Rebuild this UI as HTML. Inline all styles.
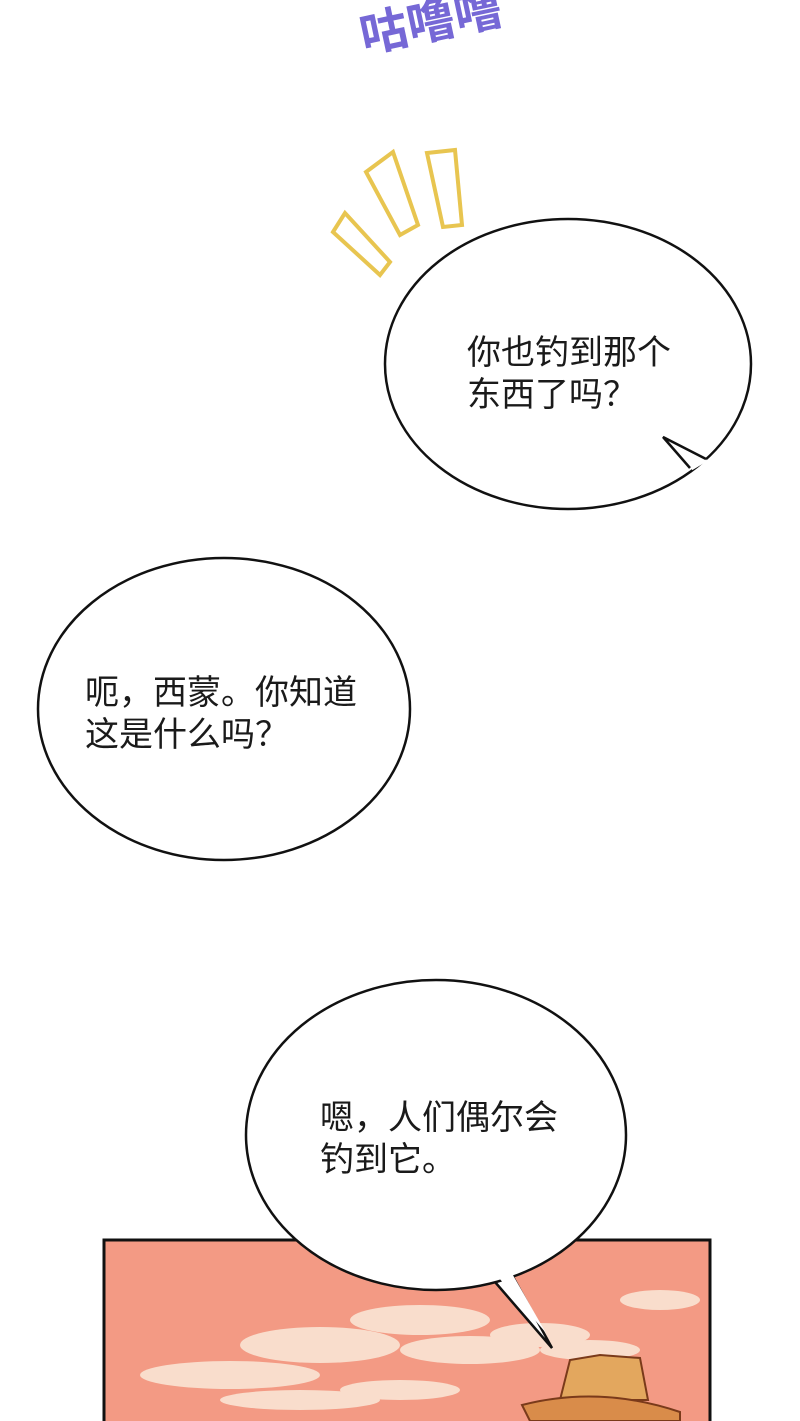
<!DOCTYPE html><html><head><meta charset="utf-8"><style>
body{margin:0;width:800px;height:1421px;background:#fff;overflow:hidden;position:relative;font-family:"Liberation Sans","Noto Sans CJK SC",sans-serif}
.t{position:absolute;font-size:34px;line-height:42px;color:#1a1a1a;white-space:nowrap}
</style></head><body>
<svg width="800" height="1421" style="position:absolute;left:0;top:0">
<text x="360" y="45" font-size="48" font-weight="bold" fill="#7668d6" transform="rotate(-12 400 30)" font-family="Noto Sans CJK SC, sans-serif">咕噜噜</text>
<g fill="none" stroke="#e8c550" stroke-width="4">
<polygon points="333,232 345,213 390,262 380,275"/>
<polygon points="366,172 393,152 418,225 400,235"/>
<polygon points="427,153 455,150 462,225 443,227"/>
</g>
<rect x="104" y="1240" width="606" height="190" fill="#f39a84" stroke="#111" stroke-width="3"/>
<g fill="#fbeede" opacity="0.8">
<ellipse cx="230" cy="1375" rx="90" ry="14"/><ellipse cx="320" cy="1345" rx="80" ry="18"/>
<ellipse cx="420" cy="1320" rx="70" ry="15"/><ellipse cx="470" cy="1350" rx="70" ry="14"/>
<ellipse cx="540" cy="1335" rx="50" ry="12"/><ellipse cx="590" cy="1350" rx="50" ry="10"/>
<ellipse cx="300" cy="1400" rx="80" ry="10"/><ellipse cx="400" cy="1390" rx="60" ry="10"/>
<ellipse cx="660" cy="1300" rx="40" ry="10"/>
</g>
<path d="M560,1400 L570,1360 L600,1355 L640,1358 L648,1400 Z" fill="#e3a75e" stroke="#7a3a1a" stroke-width="2"/>
<path d="M522,1405 Q600,1385 680,1412 L680,1421 L530,1421 Z" fill="#d98c4a" stroke="#7a3a1a" stroke-width="2"/>
<g fill="#fff" stroke="#111" stroke-width="2.5">
<ellipse cx="568" cy="364" rx="183" ry="145"/>
<ellipse cx="224" cy="709" rx="186" ry="151"/>
<polygon points="495,1282 552,1348 512,1275"/>
<ellipse cx="436" cy="1135" rx="190" ry="155"/>
</g>
<path d="M691,468 L706,459" stroke="#fff" stroke-width="5"/>
<polyline points="706,459 663,437 690,468" fill="none" stroke="#111" stroke-width="2.5" stroke-linejoin="miter"/>
<polygon points="499,1278 546,1333 510,1270" fill="#fff"/>
</svg>
<div class="t" style="left:467px;top:332px">你也钓到那个<br>东西了吗？</div>
<div class="t" style="left:85px;top:672px">呃，西蒙。你知道<br>这是什么吗？</div>
<div class="t" style="left:320px;top:1097px">嗯，人们偶尔会<br>钓到它。</div>
</body></html>
